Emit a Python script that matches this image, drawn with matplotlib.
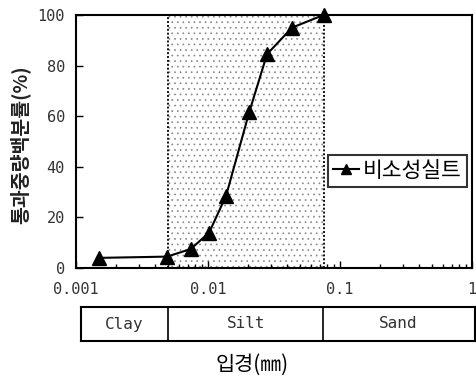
import matplotlib
matplotlib.use("Agg")
import matplotlib.pyplot as plt
import numpy as np

plt.rcParams['font.family'] = ['Noto Sans CJK KR', 'DejaVu Sans']
plt.rcParams['hatch.color'] = '#666666'
plt.rcParams['hatch.linewidth'] = 0.5

# data
diameter = [0.0015, 0.0049, 0.0074, 0.0102, 0.0137, 0.0205, 0.028, 0.0433, 0.075]
passing = [4.0, 4.5, 7.5, 14.0, 28.5, 61.5, 84.5, 95.0, 100.0]
series_name = "비소성실트"
silt_lo, silt_hi = 0.005, 0.075
zones = ["Clay", "Silt", "Sand"]
zone_bounds = [0.001, 0.005, 0.075, 1.0]
xticks = [0.001, 0.01, 0.1, 1]
xticklabels = ["0.001", "0.01", "0.1", "1"]
yticks = [0, 20, 40, 60, 80, 100]

fig = plt.figure(figsize=(4.76, 3.8), dpi=100)
ax = fig.add_axes([76/476, 1-268/380, (472-76)/476, (268-15)/380])
ax.set_xscale('log')
ax.set_xlim(0.001, 1)
ax.set_ylim(0, 100)

ax.axvspan(silt_lo, silt_hi, facecolor='white', hatch='...', edgecolor='#888888', linewidth=0, zorder=0)
for v in (silt_lo, silt_hi):
    ax.axvline(v, color='#111111', linestyle=(0, (1, 1)), linewidth=1.4, zorder=1)

ax.plot(diameter, passing, color='black', linewidth=1.5, marker='^', markersize=9.5,
        markerfacecolor='black', markeredgecolor='black', label=series_name, zorder=3, clip_on=False)

mono = 'DejaVu Sans Mono'
ax.set_xticks(xticks)
ax.set_xticklabels(xticklabels, family=mono, fontsize=11, color='#333333')
ax.set_yticks(yticks)
ax.set_yticklabels([str(t) for t in yticks], family=mono, fontsize=11, color='#333333')
ax.tick_params(axis='both', which='both', direction='in', top=False, right=False)
ax.tick_params(axis='both', which='major', length=5, width=1)
ax.tick_params(axis='x', which='minor', length=3, width=1)
ax.tick_params(axis='x', pad=10)
ax.tick_params(axis='y', pad=8)
for s in ax.spines.values():
    s.set_linewidth(1.5)

ax.set_ylabel("통과중량백분률(%)", fontsize=14, fontweight='bold', color='#222222')
ax.yaxis.set_label_coords((30-76)/396, (268-145)/253)

leg = ax.legend(loc='center left', bbox_to_anchor=((328-76)/396, (268-171)/253), frameon=True,
                fancybox=False, edgecolor='black', fontsize=15.5, handlelength=1.2,
                handletextpad=0.15, borderpad=0.25, borderaxespad=0, markerscale=0.75)
leg.get_frame().set_linewidth(1.5)

# zone table
tax = fig.add_axes([81/476, 1-341/380, (475-81)/476, 34/380])
tax.set_xscale('log')
tax.set_xlim(10**-2.962, 10**0.023)
tax.set_ylim(0, 1)
tax.xaxis.set_major_locator(matplotlib.ticker.NullLocator())
tax.xaxis.set_minor_locator(matplotlib.ticker.NullLocator())
tax.set_yticks([])
for s in tax.spines.values():
    s.set_linewidth(1.5)
for b in zone_bounds[1:-1]:
    tax.axvline(b, color='black', linewidth=1.2)
for i, z in enumerate(zones):
    lo = max(zone_bounds[i], 10**-2.962)
    hi = min(zone_bounds[i+1], 10**0.023)
    tax.text(np.sqrt(lo*hi), 0.5, z, ha='center', va='center',
             family=mono, fontsize=11.5, color='#333333')

fig.text(252/476, 1-365/380, "입경(㎜)", ha='center', va='center', fontsize=15)

fig.savefig("out.png", dpi=100)
